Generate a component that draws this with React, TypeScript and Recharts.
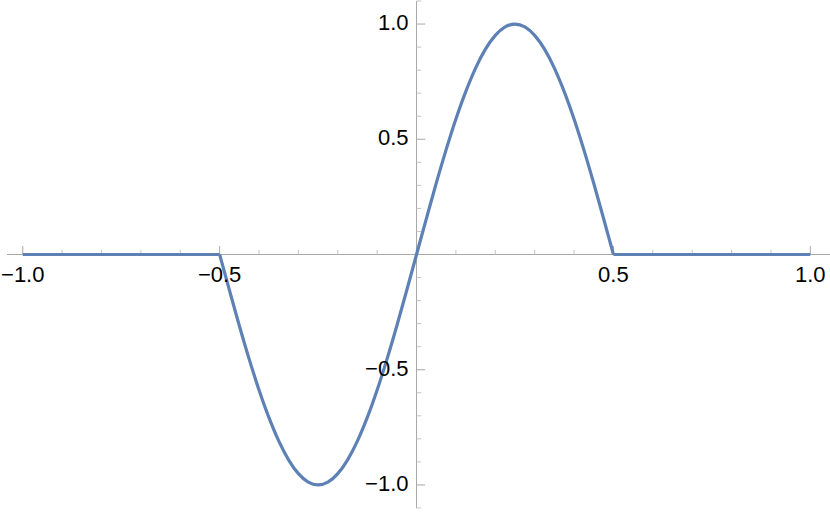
import React from "react";
import {
  LineChart,
  Line,
  XAxis,
  YAxis,
  ReferenceLine,
  ReferenceDot,
} from "recharts";

const xValues = [
  -1, -0.5, -0.475, -0.45, -0.425, -0.4, -0.375, -0.35, -0.325, -0.3, -0.275,
  -0.25, -0.225, -0.2, -0.175, -0.15, -0.125, -0.1, -0.075, -0.05, -0.025, 0,
  0.025, 0.05, 0.075, 0.1, 0.125, 0.15, 0.175, 0.2, 0.225, 0.25, 0.275, 0.3,
  0.325, 0.35, 0.375, 0.4, 0.425, 0.45, 0.475, 0.5, 1,
];
const yValues = [
  0, 0, -0.156, -0.309, -0.454, -0.588, -0.707, -0.809, -0.891, -0.951, -0.988,
  -1.0, -0.988, -0.951, -0.891, -0.809, -0.707, -0.588, -0.454, -0.309, -0.156,
  0, 0.156, 0.309, 0.454, 0.588, 0.707, 0.809, 0.891, 0.951, 0.988, 1.0, 0.988,
  0.951, 0.891, 0.809, 0.707, 0.588, 0.454, 0.309, 0.156, 0, 0,
];

const xMajorTicks = [-1, -0.5, 0.5, 1];
const xTickLabels = ["\u22121.0", "\u22120.5", "0.5", "1.0"];
const xMinorTicks = [
  -0.9, -0.8, -0.7, -0.6, -0.4, -0.3, -0.2, -0.1, 0.1, 0.2, 0.3, 0.4, 0.6, 0.7,
  0.8, 0.9,
];
const yMajorTicks = [-1, -0.5, 0.5, 1];
const yTickLabels = ["\u22121.0", "\u22120.5", "0.5", "1.0"];
const yMinorTicks = [
  -1.1, -0.9, -0.8, -0.7, -0.6, -0.4, -0.3, -0.2, -0.1, 0.1, 0.2, 0.3, 0.4,
  0.6, 0.7, 0.8, 0.9, 1.1,
];

// wave part is drawn smooth, the flat tails straight
const data = xValues.map((x, i) => ({
  x,
  wave: Math.abs(x) <= 0.5 ? yValues[i] : null,
  flat: Math.abs(x) >= 0.5 ? yValues[i] : null,
}));

const AXIS = "#a8a8a8";
const BLUE = "#5e81b5";
const FONT = "'Liberation Sans', Arial, sans-serif";

export default function App() {
  return (
    <div style={{ position: "absolute", left: 0, top: 0, width: 830, height: 512 }}>
      <LineChart
        width={830}
        height={512}
        data={data}
        margin={{ top: 1, right: 0, bottom: 4, left: 7 }}
      >
        <XAxis type="number" dataKey="x" domain={[-1.04, 1.05]} hide />
        <YAxis type="number" domain={[-1.1, 1.1]} hide />

        <ReferenceLine y={0} stroke={AXIS} strokeWidth={1} />
        <ReferenceLine x={0} stroke={AXIS} strokeWidth={1} />

        {xMinorTicks.map((v) => (
          <ReferenceLine
            key={`xm${v}`}
            segment={[{ x: v, y: 0 }, { x: v, y: 0.02 }]}
            stroke="#c4c4c4"
          />
        ))}
        {xMajorTicks.map((v) => (
          <ReferenceLine
            key={`xM${v}`}
            segment={[{ x: v, y: 0 }, { x: v, y: 0.037 }]}
            stroke={AXIS}
          />
        ))}
        {yMinorTicks.map((v) => (
          <ReferenceLine
            key={`ym${v}`}
            segment={[{ x: 0, y: v }, { x: 0.012, y: v }]}
            stroke="#c4c4c4"
          />
        ))}
        {yMajorTicks.map((v) => (
          <ReferenceLine
            key={`yM${v}`}
            segment={[{ x: 0, y: v }, { x: 0.022, y: v }]}
            stroke={AXIS}
          />
        ))}

        <Line
          type="linear"
          dataKey="flat"
          stroke={BLUE}
          strokeWidth={3.2}
          dot={false}
          activeDot={false}
          connectNulls={false}
          isAnimationActive={false}
        />
        <Line
          type="monotone"
          dataKey="wave"
          stroke={BLUE}
          strokeWidth={3.2}
          dot={false}
          activeDot={false}
          connectNulls={false}
          isAnimationActive={false}
        />

        {xMajorTicks.map((v, i) => (
          <ReferenceDot
            key={`xl${v}`}
            x={v}
            y={0}
            r={0}
            fill="none"
            stroke="none"
            label={{
              value: xTickLabels[i],
              position: "bottom",
              offset: 12,
              fill: "#000",
              fontSize: 22,
              fontFamily: FONT,
            }}
          />
        ))}
        {yMajorTicks.map((v, i) => (
          <ReferenceDot
            key={`yl${v}`}
            x={0}
            y={v}
            r={0}
            fill="none"
            stroke="none"
            label={{
              value: yTickLabels[i],
              position: "left",
              offset: 8,
              dy: -2,
              fill: "#000",
              fontSize: 22,
              fontFamily: FONT,
            }}
          />
        ))}
      </LineChart>
    </div>
  );
}
